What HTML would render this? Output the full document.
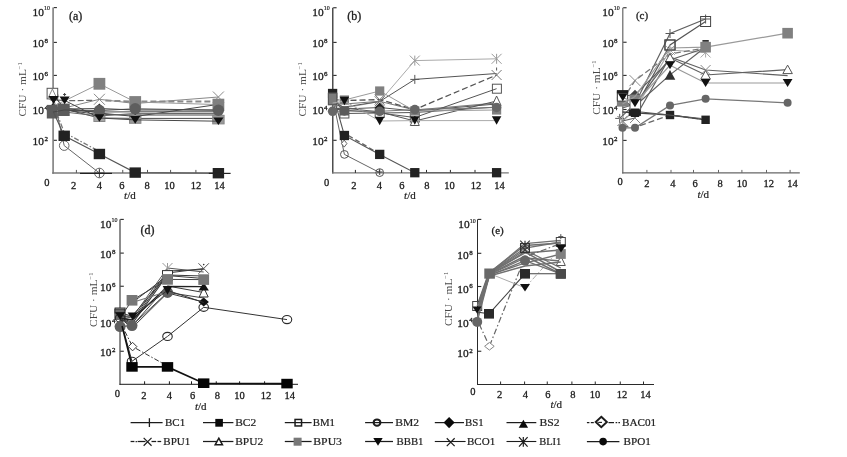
<!DOCTYPE html>
<html lang="en"><head><meta charset="utf-8"><title>CFU curves</title>
<style>html,body{margin:0;padding:0;background:#fff}svg{display:block}text{font-family:"Liberation Serif","DejaVu Serif",serif}</style>
</head><body>
<svg width="847" height="457" viewBox="0 0 847 457">
<rect width="847" height="457" fill="#fff"/>
<g id="pa">
<path d="M53.1 7.5L53.1 173.65" stroke="#8c8c8c" stroke-width="1.8" fill="none"/>
<path d="M52.2 172.9L219 172.9" stroke="#7a7a7a" stroke-width="1.5" fill="none"/>
<path d="M53.8 7.6L56.9 7.6" stroke="#2a2a2a" stroke-width="1.1" fill="none"/>
<path d="M53.8 42.4L56.9 42.4" stroke="#2a2a2a" stroke-width="1.1" fill="none"/>
<path d="M53.8 75.4L56.9 75.4" stroke="#2a2a2a" stroke-width="1.1" fill="none"/>
<path d="M53.8 109.5L56.9 109.5" stroke="#2a2a2a" stroke-width="1.1" fill="none"/>
<path d="M53.8 140.3L56.9 140.3" stroke="#2a2a2a" stroke-width="1.1" fill="none"/>
<path d="M76.4 172.9L76.4 169.9" stroke="#555" stroke-width="1.0" fill="none"/>
<path d="M99.4 172.9L99.4 169.9" stroke="#555" stroke-width="1.0" fill="none"/>
<path d="M122.75 172.9L122.75 169.9" stroke="#555" stroke-width="1.0" fill="none"/>
<path d="M147.5 172.9L147.5 169.9" stroke="#555" stroke-width="1.0" fill="none"/>
<path d="M170.6 172.9L170.6 169.9" stroke="#555" stroke-width="1.0" fill="none"/>
<path d="M195.9 172.9L195.9 169.9" stroke="#555" stroke-width="1.0" fill="none"/>
<text x="43.9" y="15.65" font-size="11.4" fill="#1c1c1c" stroke="#1c1c1c" stroke-width="0.3" text-anchor="end">10</text>
<text x="44" y="10.45" font-size="7" fill="#222" stroke="#222" stroke-width="0.2" textLength="6" lengthAdjust="spacingAndGlyphs">10</text>
<text x="43.9" y="46.75" font-size="11.4" fill="#1c1c1c" stroke="#1c1c1c" stroke-width="0.3" text-anchor="end">10</text>
<text x="44.4" y="42.55" font-size="7" fill="#222" stroke="#222" stroke-width="0.3" text-anchor="start">8</text>
<text x="43.9" y="79.9" font-size="11.4" fill="#1c1c1c" stroke="#1c1c1c" stroke-width="0.3" text-anchor="end">10</text>
<text x="44.4" y="75.7" font-size="7" fill="#222" stroke="#222" stroke-width="0.3" text-anchor="start">6</text>
<text x="43.9" y="114" font-size="11.4" fill="#1c1c1c" stroke="#1c1c1c" stroke-width="0.3" text-anchor="end">10</text>
<text x="44.4" y="109.8" font-size="7" fill="#222" stroke="#222" stroke-width="0.3" text-anchor="start">4</text>
<text x="43.9" y="144.8" font-size="11.4" fill="#1c1c1c" stroke="#1c1c1c" stroke-width="0.3" text-anchor="end">10</text>
<text x="44.4" y="140.6" font-size="7" fill="#222" stroke="#222" stroke-width="0.3" text-anchor="start">2</text>
<text x="46.9" y="186.4" font-size="10.5" fill="#1c1c1c" stroke="#1c1c1c" stroke-width="0.3" text-anchor="middle">0</text>
<text x="73.5" y="188.6" font-size="10.5" fill="#1c1c1c" stroke="#1c1c1c" stroke-width="0.3" text-anchor="middle">2</text>
<text x="99.4" y="188.6" font-size="10.5" fill="#1c1c1c" stroke="#1c1c1c" stroke-width="0.3" text-anchor="middle">4</text>
<text x="121.9" y="188.6" font-size="10.5" fill="#1c1c1c" stroke="#1c1c1c" stroke-width="0.3" text-anchor="middle">6</text>
<text x="147.1" y="188.6" font-size="10.5" fill="#1c1c1c" stroke="#1c1c1c" stroke-width="0.3" text-anchor="middle">8</text>
<text x="169.4" y="188.6" font-size="10.5" fill="#1c1c1c" stroke="#1c1c1c" stroke-width="0.3" text-anchor="middle">10</text>
<text x="195.9" y="188.6" font-size="10.5" fill="#1c1c1c" stroke="#1c1c1c" stroke-width="0.3" text-anchor="middle">12</text>
<text x="219.4" y="188.6" font-size="10.5" fill="#1c1c1c" stroke="#1c1c1c" stroke-width="0.3" text-anchor="middle">14</text>
<text x="75.6" y="19.5" font-size="12" fill="#222" stroke="#222" stroke-width="0.3" text-anchor="middle">(a)</text>
<text x="124.1" y="199.4" font-size="11" fill="#222" stroke="#222" stroke-width="0.2"><tspan font-style="italic">t</tspan>/d</text>
<text x="26.2" y="89.4" font-size="11.4" fill="#484848" text-anchor="middle" transform="rotate(-90 26.2 89.4)">CFU · mL<tspan font-size="6.5" dy="-4">−1</tspan></text>
<path d="M53.2 108L64.2 110L99.4 114.5L135.2 115L218.4 115" stroke="#484848" stroke-width="1.0" fill="none"/>
<path d="M59.7 110H68.7M64.2 105.5V114.5" stroke="#555" stroke-width="1.0" fill="none"/>
<path d="M63.1 94.5H66.1M64.6 93V96" stroke="#444" stroke-width="1.0" fill="none"/>
<path d="M53.2 96L64.2 145.6L99.4 173" stroke="#666" stroke-width="1.0" fill="none"/>
<ellipse cx="53.2" cy="96" rx="4.8" ry="4.8" fill="none" stroke="#666" stroke-width="1.0"/>
<ellipse cx="64.2" cy="145.6" rx="4.8" ry="4.8" fill="none" stroke="#666" stroke-width="1.0"/>
<ellipse cx="99.4" cy="173" rx="4.8" ry="4.8" fill="none" stroke="#666" stroke-width="1.0"/>
<path d="M94.9 173H103.9M99.4 168.5V177.5" stroke="#444" stroke-width="1.0" fill="none"/>
<path d="M80 173.4L112 173.4" stroke="#222" stroke-width="1.2" fill="none"/>
<path d="M53.2 104L64.2 132.5L99.4 151.5" stroke="#777" stroke-width="1.3" fill="none" stroke-dasharray="5 2 1.5 2"/>
<path d="M52.4 93.6L64.2 109L99.4 118L135.2 118.4L218.4 118.4" stroke="#484848" stroke-width="1.0" fill="none"/>
<rect x="47.1" y="88.3" width="10.6" height="10.6" fill="#fff" stroke="#555" stroke-width="1.0"/>
<rect x="93.9" y="114.5" width="11" height="7" fill="#a5a5a5" stroke="#888" stroke-width="1.0"/>
<rect x="129.5" y="114.7" width="11.4" height="8.6" fill="#999" stroke="#888" stroke-width="1.0"/>
<rect x="212.7" y="115.3" width="11.4" height="8.6" fill="#999" stroke="#888" stroke-width="1.0"/>
<path d="M52.4 93.5L64.2 108L99.4 113L135.2 116.5L218.4 104.4" stroke="#484848" stroke-width="1.0" fill="none"/>
<path d="M52.4 89L56.4 97.5L48.4 97.5Z" fill="#fff" stroke="#888" stroke-width="1.0"/>
<path d="M53.2 108L64.2 109L99.4 108.5L135.2 110L218.4 110" stroke="#484848" stroke-width="1.0" fill="none"/>
<path d="M53.2 103L58.2 108L53.2 113L48.2 108Z" fill="#222"/>
<path d="M64.2 104L69.2 109L64.2 114L59.2 109Z" fill="#222"/>
<path d="M99.4 103.5L104.4 108.5L99.4 113.5L94.4 108.5Z" fill="#222"/>
<path d="M135.2 105L140.2 110L135.2 115L130.2 110Z" fill="#222"/>
<path d="M218.4 105L223.4 110L218.4 115L213.4 110Z" fill="#222"/>
<path d="M53.2 109L64.2 110L99.4 112L135.2 111.8L218.4 111.8" stroke="#484848" stroke-width="1.0" fill="none"/>
<path d="M53.2 106L64.2 112L99.4 116L135.2 113.4L218.4 113.6" stroke="#666" stroke-width="1.0" fill="none"/>
<path d="M53.2 105L64.2 108L99.4 99.3L135.2 103.5L218.4 97" stroke="#888" stroke-width="1.0" fill="none"/>
<path d="M93.9 93.8L104.9 104.8M93.9 104.8L104.9 93.8" stroke="#8a8a8a" stroke-width="1.0" fill="none"/>
<path d="M212.9 91.5L223.9 102.5M212.9 102.5L223.9 91.5" stroke="#8a8a8a" stroke-width="1.0" fill="none"/>
<path d="M69.2 100.6L94.4 100.4" stroke="#666" stroke-width="1.2" fill="none" stroke-dasharray="6 2.5"/>
<path d="M105.4 100.6L135.2 101.6L218.4 101.4" stroke="#8a8a8a" stroke-width="2.0" fill="none" stroke-dasharray="6 3"/>
<path d="M53.2 106L64.2 101L99.4 83.8L135.2 102L218.4 104.6" stroke="#9a9a9a" stroke-width="1.0" fill="none"/>
<rect x="93.5" y="77.9" width="11.8" height="11.8" fill="#808080"/>
<rect x="129.3" y="96.1" width="11.8" height="11.8" fill="#808080"/>
<rect x="212.5" y="98.7" width="11.8" height="11.8" fill="#808080"/>
<rect x="46.8" y="104.9" width="10.8" height="13.6" fill="#5c5c5c"/>
<rect x="57.5" y="103.6" width="12.2" height="12.4" fill="#5c5c5c"/>
<path d="M53.2 111.5L64.2 135.8L99.4 154L135.2 172.6L218.4 173.2" stroke="#555" stroke-width="1.1" fill="none"/>
<rect x="58.5" y="130.6" width="11.4" height="10.4" fill="#222"/>
<rect x="93.7" y="148.8" width="11.4" height="10.4" fill="#222"/>
<rect x="129.5" y="167.4" width="11.4" height="10.4" fill="#222"/>
<rect x="212.7" y="168" width="11.4" height="10.4" fill="#222"/>
<path d="M208.8 173.4L230.6 173.4" stroke="#222" stroke-width="1.2" fill="none"/>
<path d="M53.2 112L64.2 110L99.4 110.5L135.2 108.8L218.4 110.2" stroke="#484848" stroke-width="1.0" fill="none"/>
<ellipse cx="99.4" cy="110.5" rx="5.7" ry="5.7" fill="#5e5e5e"/>
<ellipse cx="135.2" cy="108.8" rx="5.7" ry="5.7" fill="#5e5e5e"/>
<ellipse cx="218.4" cy="110.2" rx="5.7" ry="5.7" fill="#5e5e5e"/>
<path d="M53.6 99.9L64.6 100.4L99.4 118L135.2 119.9L218.4 121.2" stroke="#484848" stroke-width="1.0" fill="none"/>
<path d="M48.5 96.1L58.7 96.1L53.6 103.7Z" fill="#111"/>
<path d="M59.5 96.6L69.7 96.6L64.6 104.2Z" fill="#111"/>
<path d="M94.3 114.2L104.5 114.2L99.4 121.8Z" fill="#111"/>
<path d="M130.1 116.1L140.3 116.1L135.2 123.7Z" fill="#111"/>
<path d="M213.3 117.4L223.5 117.4L218.4 125Z" fill="#111"/>
</g>
<g id="pb">
<path d="M332.8 7.75L332.8 173.55" stroke="#2a2a2a" stroke-width="1.25" fill="none"/>
<path d="M332.18 172.9L508.8 172.9" stroke="#777" stroke-width="1.3" fill="none"/>
<path d="M333.23 7.75L336.6 7.75" stroke="#2a2a2a" stroke-width="1.1" fill="none"/>
<path d="M333.23 42.4L336.6 42.4" stroke="#2a2a2a" stroke-width="1.1" fill="none"/>
<path d="M333.23 75.4L336.6 75.4" stroke="#2a2a2a" stroke-width="1.1" fill="none"/>
<path d="M333.23 109.5L336.6 109.5" stroke="#2a2a2a" stroke-width="1.1" fill="none"/>
<path d="M333.23 140.3L336.6 140.3" stroke="#2a2a2a" stroke-width="1.1" fill="none"/>
<path d="M355.4 172.9L355.4 169.9" stroke="#2a2a2a" stroke-width="1.0" fill="none"/>
<path d="M379.4 172.9L379.4 169.9" stroke="#2a2a2a" stroke-width="1.0" fill="none"/>
<path d="M401.6 172.9L401.6 169.9" stroke="#2a2a2a" stroke-width="1.0" fill="none"/>
<path d="M426.5 172.9L426.5 169.9" stroke="#2a2a2a" stroke-width="1.0" fill="none"/>
<path d="M450.4 172.9L450.4 169.9" stroke="#2a2a2a" stroke-width="1.0" fill="none"/>
<path d="M475 172.9L475 169.9" stroke="#2a2a2a" stroke-width="1.0" fill="none"/>
<text x="323.6" y="15.65" font-size="11.4" fill="#1c1c1c" stroke="#1c1c1c" stroke-width="0.3" text-anchor="end">10</text>
<text x="323.7" y="10.45" font-size="7" fill="#222" stroke="#222" stroke-width="0.2" textLength="6" lengthAdjust="spacingAndGlyphs">10</text>
<text x="323.6" y="46.9" font-size="11.4" fill="#1c1c1c" stroke="#1c1c1c" stroke-width="0.3" text-anchor="end">10</text>
<text x="324.1" y="42.7" font-size="7" fill="#222" stroke="#222" stroke-width="0.3" text-anchor="start">8</text>
<text x="323.6" y="79.9" font-size="11.4" fill="#1c1c1c" stroke="#1c1c1c" stroke-width="0.3" text-anchor="end">10</text>
<text x="324.1" y="75.7" font-size="7" fill="#222" stroke="#222" stroke-width="0.3" text-anchor="start">6</text>
<text x="323.6" y="114" font-size="11.4" fill="#1c1c1c" stroke="#1c1c1c" stroke-width="0.3" text-anchor="end">10</text>
<text x="324.1" y="109.8" font-size="7" fill="#222" stroke="#222" stroke-width="0.3" text-anchor="start">4</text>
<text x="323.6" y="144.8" font-size="11.4" fill="#1c1c1c" stroke="#1c1c1c" stroke-width="0.3" text-anchor="end">10</text>
<text x="324.1" y="140.6" font-size="7" fill="#222" stroke="#222" stroke-width="0.3" text-anchor="start">2</text>
<text x="326.6" y="186.4" font-size="10.5" fill="#1c1c1c" stroke="#1c1c1c" stroke-width="0.3" text-anchor="middle">0</text>
<text x="353.75" y="188.6" font-size="10.5" fill="#1c1c1c" stroke="#1c1c1c" stroke-width="0.3" text-anchor="middle">2</text>
<text x="379.4" y="188.6" font-size="10.5" fill="#1c1c1c" stroke="#1c1c1c" stroke-width="0.3" text-anchor="middle">4</text>
<text x="401.9" y="188.6" font-size="10.5" fill="#1c1c1c" stroke="#1c1c1c" stroke-width="0.3" text-anchor="middle">6</text>
<text x="426.9" y="188.6" font-size="10.5" fill="#1c1c1c" stroke="#1c1c1c" stroke-width="0.3" text-anchor="middle">8</text>
<text x="449.4" y="188.6" font-size="10.5" fill="#1c1c1c" stroke="#1c1c1c" stroke-width="0.3" text-anchor="middle">10</text>
<text x="475.9" y="188.6" font-size="10.5" fill="#1c1c1c" stroke="#1c1c1c" stroke-width="0.3" text-anchor="middle">12</text>
<text x="499.4" y="188.6" font-size="10.5" fill="#1c1c1c" stroke="#1c1c1c" stroke-width="0.3" text-anchor="middle">14</text>
<text x="354.3" y="19.5" font-size="12" fill="#222" stroke="#222" stroke-width="0.3" text-anchor="middle">(b)</text>
<text x="404.1" y="199.4" font-size="11" fill="#222" stroke="#222" stroke-width="0.2"><tspan font-style="italic">t</tspan>/d</text>
<text x="306.5" y="89.4" font-size="11.4" fill="#484848" text-anchor="middle" transform="rotate(-90 306.5 89.4)">CFU · mL<tspan font-size="6.5" dy="-4">−1</tspan></text>
<path d="M332.6 106L344.4 108L379.7 101.5L414.8 60.6L496.6 58.8" stroke="#aaa" stroke-width="1.0" fill="none"/>
<path d="M409.8 55.6L419.8 65.6M409.8 65.6L419.8 55.6M414.8 55.6V65.6" stroke="#999" stroke-width="1.0" fill="none"/>
<path d="M491.6 53.8L501.6 63.8M491.6 63.8L501.6 53.8M496.6 53.8V63.8" stroke="#999" stroke-width="1.0" fill="none"/>
<path d="M332.6 104L344.4 107L379.7 101.5L414.8 79.4L496.6 73.5" stroke="#555" stroke-width="1.0" fill="none"/>
<path d="M410.3 79.4H419.3M414.8 74.9V83.9" stroke="#555" stroke-width="1.0" fill="none"/>
<path d="M496.6 67.5L496.6 70.5" stroke="#555" stroke-width="1.0" fill="none"/>
<path d="M332.6 102L344.4 104L379.7 101.3L414.8 110L496.6 103" stroke="#777" stroke-width="1.0" fill="none"/>
<path d="M374.7 96.3L384.7 106.3M374.7 106.3L384.7 96.3" stroke="#777" stroke-width="1.0" fill="none"/>
<path d="M332.6 99L344.4 100.6L379.7 99.6L414.8 109.5L496.6 75" stroke="#555" stroke-width="1.3" fill="none" stroke-dasharray="6 3"/>
<path d="M374.7 94.6L384.7 104.6M374.7 104.6L384.7 94.6" stroke="#777" stroke-width="1.0" fill="none"/>
<path d="M491.6 70L501.6 80M491.6 80L501.6 70" stroke="#777" stroke-width="1.0" fill="none"/>
<path d="M332.6 96L344.4 113.5L379.7 113L414.8 117.5L496.6 88.7" stroke="#555" stroke-width="1.0" fill="none"/>
<rect x="339.9" y="109" width="9" height="9" fill="#fff" stroke="#555" stroke-width="1.0"/>
<rect x="375.2" y="108.5" width="9" height="9" fill="#fff" stroke="#555" stroke-width="1.0"/>
<rect x="410.3" y="113" width="9" height="9" fill="#fff" stroke="#555" stroke-width="1.0"/>
<rect x="492.4" y="84.2" width="9" height="9" fill="none" stroke="#555" stroke-width="1.0"/>
<path d="M332.6 98L344.4 154.4L379.7 172.6" stroke="#666" stroke-width="1.0" fill="none"/>
<ellipse cx="332.6" cy="98" rx="3.9" ry="3.9" fill="none" stroke="#555" stroke-width="1.0"/>
<ellipse cx="344.4" cy="154.4" rx="3.9" ry="3.9" fill="none" stroke="#555" stroke-width="1.0"/>
<ellipse cx="379.7" cy="172.6" rx="3.9" ry="3.9" fill="none" stroke="#555" stroke-width="1.0"/>
<path d="M376.7 172H382.7M379.7 169V175" stroke="#444" stroke-width="1.0" fill="none"/>
<path d="M348.4 135.5L373.7 150.5" stroke="#666" stroke-width="1.4" fill="none" stroke-dasharray="5 3"/>
<path d="M344.2 140.1L346.95 143.6L344.2 147.1L341.45 143.6Z" fill="#fff" stroke="#666" stroke-width="1.0"/>
<path d="M332.6 100L344.4 108L379.7 112L414.8 121L496.6 101" stroke="#555" stroke-width="1.0" fill="none"/>
<path d="M414.8 116L419.3 125.5L410.3 125.5Z" fill="#fff" stroke="#555" stroke-width="1.0"/>
<path d="M496.6 96L501.1 105.5L492.1 105.5Z" fill="#fff" stroke="#555" stroke-width="1.0"/>
<path d="M332.6 108L344.4 109L379.7 107.5L414.8 111L496.6 104" stroke="#555" stroke-width="1.0" fill="none"/>
<path d="M379.7 102.5L384.7 107.5L379.7 112.5L374.7 107.5Z" fill="#222"/>
<path d="M332.6 109L344.4 110L379.7 113L414.8 112.5L496.6 107" stroke="#555" stroke-width="1.0" fill="none"/>
<path d="M332.6 100L344.4 100L379.7 91L414.8 111L496.6 110" stroke="#9a9a9a" stroke-width="1.0" fill="none"/>
<rect x="328" y="95.4" width="9.2" height="9.2" fill="#808080"/>
<rect x="339.8" y="95.4" width="9.2" height="9.2" fill="#808080"/>
<rect x="375.1" y="86.4" width="9.2" height="9.2" fill="#808080"/>
<rect x="410.2" y="106.4" width="9.2" height="9.2" fill="#808080"/>
<rect x="492" y="105.4" width="9.2" height="9.2" fill="#808080"/>
<path d="M332.6 93.5L344.4 135.5L379.7 154.4L414.8 172.7L496.6 172.7" stroke="#555" stroke-width="1.1" fill="none"/>
<rect x="327.95" y="88.85" width="9.3" height="9.3" fill="#222"/>
<rect x="339.75" y="130.85" width="9.3" height="9.3" fill="#222"/>
<rect x="375.05" y="149.75" width="9.3" height="9.3" fill="#222"/>
<rect x="410.15" y="168.05" width="9.3" height="9.3" fill="#222"/>
<rect x="491.95" y="168.05" width="9.3" height="9.3" fill="#222"/>
<rect x="327.9" y="92.8" width="9.4" height="12.4" fill="#7c7c7c"/>
<rect x="328.4" y="93.3" width="8.4" height="11.4" fill="none" stroke="#555" stroke-width="1.0"/>
<path d="M332.6 103L344.4 101L379.7 121L414.8 120.6L496.6 120.6" stroke="#aaa" stroke-width="1.0" fill="none"/>
<path d="M339.65 96.75L349.15 96.75L344.4 105.25Z" fill="#111"/>
<path d="M374.95 116.75L384.45 116.75L379.7 125.25Z" fill="#111"/>
<path d="M410.05 116.35L419.55 116.35L414.8 124.85Z" fill="#111"/>
<path d="M491.85 116.35L501.35 116.35L496.6 124.85Z" fill="#111"/>
<path d="M332.6 111.3L344.4 111L379.7 111.3L414.8 109.6L496.6 107.5" stroke="#777" stroke-width="1.0" fill="none"/>
<ellipse cx="332.6" cy="111.3" rx="4.75" ry="4.75" fill="#666"/>
<ellipse cx="344.4" cy="111" rx="4.75" ry="4.75" fill="#666"/>
<ellipse cx="379.7" cy="111.3" rx="4.75" ry="4.75" fill="#666"/>
<ellipse cx="414.8" cy="109.6" rx="4.75" ry="4.75" fill="#666"/>
<ellipse cx="496.6" cy="107.5" rx="4.75" ry="4.75" fill="#666"/>
<rect x="339.9" y="106.5" width="9" height="9" fill="#5a5a5a"/>
</g>
<g id="pc">
<path d="M622.8 7.75L622.8 173.5" stroke="#666" stroke-width="1.2" fill="none"/>
<path d="M622.2 172.9L799.8 172.9" stroke="#666" stroke-width="1.2" fill="none"/>
<path d="M623.2 7.75L626.6 7.75" stroke="#2a2a2a" stroke-width="1.1" fill="none"/>
<path d="M623.2 42.25L626.6 42.25" stroke="#2a2a2a" stroke-width="1.1" fill="none"/>
<path d="M623.2 75.4L626.6 75.4" stroke="#2a2a2a" stroke-width="1.1" fill="none"/>
<path d="M623.2 109.5L626.6 109.5" stroke="#2a2a2a" stroke-width="1.1" fill="none"/>
<path d="M623.2 140.4L626.6 140.4" stroke="#2a2a2a" stroke-width="1.1" fill="none"/>
<path d="M646.9 172.9L646.9 169.9" stroke="#666" stroke-width="1.0" fill="none"/>
<path d="M671 172.9L671 169.9" stroke="#666" stroke-width="1.0" fill="none"/>
<path d="M693.5 172.9L693.5 169.9" stroke="#666" stroke-width="1.0" fill="none"/>
<path d="M718.5 172.9L718.5 169.9" stroke="#666" stroke-width="1.0" fill="none"/>
<path d="M741.9 172.9L741.9 169.9" stroke="#666" stroke-width="1.0" fill="none"/>
<path d="M766.5 172.9L766.5 169.9" stroke="#666" stroke-width="1.0" fill="none"/>
<path d="M790.1 172.9L790.1 169.9" stroke="#666" stroke-width="1.0" fill="none"/>
<text x="613.6" y="15.65" font-size="11.4" fill="#1c1c1c" stroke="#1c1c1c" stroke-width="0.3" text-anchor="end">10</text>
<text x="613.7" y="10.45" font-size="7" fill="#222" stroke="#222" stroke-width="0.2" textLength="6" lengthAdjust="spacingAndGlyphs">10</text>
<text x="613.6" y="46.75" font-size="11.4" fill="#1c1c1c" stroke="#1c1c1c" stroke-width="0.3" text-anchor="end">10</text>
<text x="614.1" y="42.55" font-size="7" fill="#222" stroke="#222" stroke-width="0.3" text-anchor="start">8</text>
<text x="613.6" y="79.9" font-size="11.4" fill="#1c1c1c" stroke="#1c1c1c" stroke-width="0.3" text-anchor="end">10</text>
<text x="614.1" y="75.7" font-size="7" fill="#222" stroke="#222" stroke-width="0.3" text-anchor="start">6</text>
<text x="613.6" y="114" font-size="11.4" fill="#1c1c1c" stroke="#1c1c1c" stroke-width="0.3" text-anchor="end">10</text>
<text x="614.1" y="109.8" font-size="7" fill="#222" stroke="#222" stroke-width="0.3" text-anchor="start">4</text>
<text x="613.6" y="144.9" font-size="11.4" fill="#1c1c1c" stroke="#1c1c1c" stroke-width="0.3" text-anchor="end">10</text>
<text x="614.1" y="140.7" font-size="7" fill="#222" stroke="#222" stroke-width="0.3" text-anchor="start">2</text>
<text x="620" y="184.7" font-size="10.5" fill="#1c1c1c" stroke="#1c1c1c" stroke-width="0.3" text-anchor="middle">0</text>
<text x="646.9" y="186.7" font-size="10.5" fill="#1c1c1c" stroke="#1c1c1c" stroke-width="0.3" text-anchor="middle">2</text>
<text x="672.8" y="186.7" font-size="10.5" fill="#1c1c1c" stroke="#1c1c1c" stroke-width="0.3" text-anchor="middle">4</text>
<text x="695" y="186.7" font-size="10.5" fill="#1c1c1c" stroke="#1c1c1c" stroke-width="0.3" text-anchor="middle">6</text>
<text x="720" y="186.7" font-size="10.5" fill="#1c1c1c" stroke="#1c1c1c" stroke-width="0.3" text-anchor="middle">8</text>
<text x="741.9" y="186.7" font-size="10.5" fill="#1c1c1c" stroke="#1c1c1c" stroke-width="0.3" text-anchor="middle">10</text>
<text x="768.75" y="186.7" font-size="10.5" fill="#1c1c1c" stroke="#1c1c1c" stroke-width="0.3" text-anchor="middle">12</text>
<text x="792.6" y="186.7" font-size="10.5" fill="#1c1c1c" stroke="#1c1c1c" stroke-width="0.3" text-anchor="middle">14</text>
<text x="642" y="19.3" font-size="11" fill="#222" stroke="#222" stroke-width="0.3" text-anchor="middle">(c)</text>
<text x="697.5" y="197.5" font-size="11" fill="#222" stroke="#222" stroke-width="0.2"><tspan font-style="italic">t</tspan>/d</text>
<text x="599.6" y="87.6" font-size="11.4" fill="#484848" text-anchor="middle" transform="rotate(-90 599.6 87.6)">CFU · mL<tspan font-size="6.5" dy="-4">−1</tspan></text>
<path d="M619.7 118.4L635 104L670 33.5L705.6 19" stroke="#606060" stroke-width="1.2" fill="none"/>
<path d="M615.2 118.4H624.2M619.7 113.9V122.9" stroke="#555" stroke-width="1.0" fill="none"/>
<path d="M630.5 104H639.5M635 99.5V108.5" stroke="#555" stroke-width="1.0" fill="none"/>
<path d="M665.5 33.5H674.5M670 29V38" stroke="#555" stroke-width="1.0" fill="none"/>
<path d="M701.1 19H710.1M705.6 14.5V23.5" stroke="#555" stroke-width="1.0" fill="none"/>
<path d="M622.5 100L635 108L670 45L705.6 21.5" stroke="#555" stroke-width="1.2" fill="none"/>
<rect x="665" y="40" width="10" height="10" fill="none" stroke="#444" stroke-width="1.0"/>
<rect x="700.6" y="16.5" width="10" height="10" fill="none" stroke="#444" stroke-width="1.0"/>
<path d="M622.5 121L635 110L670 50L705.6 52.5" stroke="#aaa" stroke-width="1.2" fill="none"/>
<path d="M617.5 116L627.5 126M617.5 126L627.5 116M622.5 116V126" stroke="#aaa" stroke-width="1.0" fill="none"/>
<path d="M630 105L640 115M630 115L640 105M635 105V115" stroke="#aaa" stroke-width="1.0" fill="none"/>
<path d="M665 45L675 55M665 55L675 45M670 45V55" stroke="#aaa" stroke-width="1.0" fill="none"/>
<path d="M700.6 47.5L710.6 57.5M700.6 57.5L710.6 47.5M705.6 47.5V57.5" stroke="#aaa" stroke-width="1.0" fill="none"/>
<path d="M622.5 126L635 127.5L670 115L705.6 119.8" stroke="#666" stroke-width="1.2" fill="none" stroke-dasharray="6 3"/>
<path d="M622.5 100L635 80.6L670 54L705.6 48" stroke="#777" stroke-width="1.3" fill="none" stroke-dasharray="6 3"/>
<path d="M629.5 75.1L640.5 86.1M629.5 86.1L640.5 75.1" stroke="#8a8a8a" stroke-width="1.0" fill="none"/>
<path d="M622.5 121L635 118L670 57L705.6 70L787.6 75.6" stroke="#606060" stroke-width="1.2" fill="none"/>
<path d="M617.5 116L627.5 126M617.5 126L627.5 116" stroke="#888" stroke-width="1.0" fill="none"/>
<path d="M630 113L640 123M630 123L640 113" stroke="#888" stroke-width="1.0" fill="none"/>
<path d="M665 52L675 62M665 62L675 52" stroke="#888" stroke-width="1.0" fill="none"/>
<path d="M700.6 65L710.6 75M700.6 75L710.6 65" stroke="#888" stroke-width="1.0" fill="none"/>
<path d="M622.5 96L635 95L670 60L705.6 48" stroke="#606060" stroke-width="1.2" fill="none"/>
<path d="M635 89.7L640.3 95L635 100.3L629.7 95Z" fill="#444"/>
<path d="M622.5 108L635 104L670 58L705.6 75L787.6 69.6" stroke="#606060" stroke-width="1.2" fill="none"/>
<path d="M670 53.5L674.75 62L665.25 62Z" fill="#fff" stroke="#555" stroke-width="1.0"/>
<path d="M705.6 70.5L710.35 79L700.85 79Z" fill="#fff" stroke="#555" stroke-width="1.0"/>
<path d="M787.6 65.1L792.35 73.6L782.85 73.6Z" fill="#fff" stroke="#555" stroke-width="1.0"/>
<path d="M622.5 104L635 106L670 74.9L705.6 47" stroke="#606060" stroke-width="1.2" fill="none"/>
<path d="M670 70L675.3 79.8L664.7 79.8Z" fill="#303030"/>
<rect x="616.9" y="90.3" width="11.2" height="10" fill="#1c1c1c"/>
<rect x="616.9" y="97" width="11.2" height="9.6" fill="#808080"/>
<rect x="617.4" y="92.1" width="10.2" height="9" fill="#fff" stroke="#444" stroke-width="1.0"/>
<rect x="616.9" y="90.3" width="11.2" height="3" fill="#1c1c1c"/>
<rect x="629.5" y="94.6" width="11" height="4.4" fill="#808080"/>
<rect x="630" y="99.5" width="10.6" height="9.8" fill="#fff" stroke="#555" stroke-width="1.0"/>
<path d="M622.5 104L635 96.6L670 48L705.6 47.2L787.6 33.2" stroke="#9a9a9a" stroke-width="1.2" fill="none"/>
<rect x="700.3" y="41.9" width="10.6" height="10.6" fill="#808080"/>
<rect x="782.3" y="27.9" width="10.6" height="10.6" fill="#808080"/>
<path d="M622.8 97.3L635 103.2L670 65.3L705.6 83L787.6 83" stroke="#999" stroke-width="1.2" fill="none"/>
<path d="M617.9 93.3L627.7 93.3L622.8 101.3Z" fill="#111"/>
<path d="M630.1 99.2L639.9 99.2L635 107.2Z" fill="#111"/>
<path d="M665.1 61.3L674.9 61.3L670 69.3Z" fill="#111"/>
<path d="M700.7 79L710.5 79L705.6 87Z" fill="#111"/>
<path d="M782.7 79L792.5 79L787.6 87Z" fill="#111"/>
<path d="M622.5 112L635 112.8L670 115L705.6 119.8" stroke="#444" stroke-width="1.3" fill="none"/>
<rect x="630.8" y="108.6" width="8.4" height="8.4" fill="#222"/>
<rect x="665.8" y="110.8" width="8.4" height="8.4" fill="#222"/>
<rect x="701.4" y="115.6" width="8.4" height="8.4" fill="#222"/>
<rect x="628.7" y="109.7" width="12.2" height="6.2" fill="#222"/>
<path d="M641 112L701.6 118.5" stroke="#555" stroke-width="1.2" fill="none"/>
<path d="M622.5 127.8L635 127.8L670 105.4L705.6 98.8L787.6 102.8" stroke="#777" stroke-width="1.2" fill="none"/>
<ellipse cx="622.5" cy="127.8" rx="4" ry="4" fill="#666"/>
<ellipse cx="635" cy="127.8" rx="4" ry="4" fill="#666"/>
<ellipse cx="670" cy="105.4" rx="4" ry="4" fill="#666"/>
<ellipse cx="705.6" cy="98.8" rx="4" ry="4" fill="#666"/>
<ellipse cx="787.6" cy="102.8" rx="4" ry="4" fill="#666"/>
<rect x="664.95" y="39.95" width="10.1" height="10.1" fill="none" stroke="#4a4a4a" stroke-width="1.1"/>
<rect x="702.4" y="40.1" width="6.4" height="1.6" fill="#1a1a1a"/>
</g>
<g id="pd">
<path d="M120 219.4L120 384.8" stroke="#1a1a1a" stroke-width="1.0" fill="none"/>
<path d="M119.5 384.3L298 384.3" stroke="#1a1a1a" stroke-width="1.0" fill="none"/>
<path d="M120.3 219.4L123.8 219.4" stroke="#2a2a2a" stroke-width="1.1" fill="none"/>
<path d="M120.3 253.1L123.8 253.1" stroke="#2a2a2a" stroke-width="1.1" fill="none"/>
<path d="M120.3 286.25L123.8 286.25" stroke="#2a2a2a" stroke-width="1.1" fill="none"/>
<path d="M120.3 320.5L123.8 320.5" stroke="#2a2a2a" stroke-width="1.1" fill="none"/>
<path d="M120.3 351.25L123.8 351.25" stroke="#2a2a2a" stroke-width="1.1" fill="none"/>
<path d="M144.6 384.3L144.6 381.3" stroke="#1a1a1a" stroke-width="1.0" fill="none"/>
<path d="M169.4 384.3L169.4 381.3" stroke="#1a1a1a" stroke-width="1.0" fill="none"/>
<path d="M191.5 384.3L191.5 381.3" stroke="#1a1a1a" stroke-width="1.0" fill="none"/>
<path d="M216.25 384.3L216.25 381.3" stroke="#1a1a1a" stroke-width="1.0" fill="none"/>
<path d="M239.6 384.3L239.6 381.3" stroke="#1a1a1a" stroke-width="1.0" fill="none"/>
<path d="M264.6 384.3L264.6 381.3" stroke="#1a1a1a" stroke-width="1.0" fill="none"/>
<text x="111.4" y="227.51" font-size="11.4" fill="#1c1c1c" stroke="#1c1c1c" stroke-width="0.3" text-anchor="end">10</text>
<text x="111.5" y="222.31" font-size="7" fill="#222" stroke="#222" stroke-width="0.2" textLength="6" lengthAdjust="spacingAndGlyphs">10</text>
<text x="111.4" y="258.3" font-size="11.4" fill="#1c1c1c" stroke="#1c1c1c" stroke-width="0.3" text-anchor="end">10</text>
<text x="111.9" y="254.1" font-size="7" fill="#222" stroke="#222" stroke-width="0.3" text-anchor="start">8</text>
<text x="111.4" y="291.45" font-size="11.4" fill="#1c1c1c" stroke="#1c1c1c" stroke-width="0.3" text-anchor="end">10</text>
<text x="111.9" y="287.25" font-size="7" fill="#222" stroke="#222" stroke-width="0.3" text-anchor="start">6</text>
<text x="111.4" y="326.8" font-size="11.4" fill="#1c1c1c" stroke="#1c1c1c" stroke-width="0.3" text-anchor="end">10</text>
<text x="111.9" y="322.6" font-size="7" fill="#222" stroke="#222" stroke-width="0.3" text-anchor="start">4</text>
<text x="111.4" y="356.45" font-size="11.4" fill="#1c1c1c" stroke="#1c1c1c" stroke-width="0.3" text-anchor="end">10</text>
<text x="111.9" y="352.25" font-size="7" fill="#222" stroke="#222" stroke-width="0.3" text-anchor="start">2</text>
<text x="117.25" y="396.8" font-size="10.5" fill="#1c1c1c" stroke="#1c1c1c" stroke-width="0.3" text-anchor="middle">0</text>
<text x="143.75" y="398.8" font-size="10.5" fill="#1c1c1c" stroke="#1c1c1c" stroke-width="0.3" text-anchor="middle">2</text>
<text x="169.4" y="398.8" font-size="10.5" fill="#1c1c1c" stroke="#1c1c1c" stroke-width="0.3" text-anchor="middle">4</text>
<text x="192.5" y="398.8" font-size="10.5" fill="#1c1c1c" stroke="#1c1c1c" stroke-width="0.3" text-anchor="middle">6</text>
<text x="217.25" y="398.8" font-size="10.5" fill="#1c1c1c" stroke="#1c1c1c" stroke-width="0.3" text-anchor="middle">8</text>
<text x="239.4" y="398.8" font-size="10.5" fill="#1c1c1c" stroke="#1c1c1c" stroke-width="0.3" text-anchor="middle">10</text>
<text x="266" y="398.8" font-size="10.5" fill="#1c1c1c" stroke="#1c1c1c" stroke-width="0.3" text-anchor="middle">12</text>
<text x="289.75" y="398.8" font-size="10.5" fill="#1c1c1c" stroke="#1c1c1c" stroke-width="0.3" text-anchor="middle">14</text>
<text x="147.6" y="234.2" font-size="12" fill="#222" stroke="#222" stroke-width="0.3" text-anchor="middle">(d)</text>
<text x="195" y="409.9" font-size="11" fill="#222" stroke="#222" stroke-width="0.2"><tspan font-style="italic">t</tspan>/d</text>
<text x="97.2" y="299.7" font-size="11.4" fill="#484848" text-anchor="middle" transform="rotate(-90 97.2 299.7)">CFU · mL<tspan font-size="6.5" dy="-4">−1</tspan></text>
<path d="M120.1 316L132 318L167.5 268L203.7 272" stroke="#555" stroke-width="1.0" fill="none"/>
<path d="M162.5 263L172.5 273M162.5 273L172.5 263M167.5 263V273" stroke="#999" stroke-width="1.0" fill="none"/>
<path d="M120.1 318L132 320L167.5 271L203.7 269.5" stroke="#3a3a3a" stroke-width="1.0" fill="none"/>
<ellipse cx="203.7" cy="264.6" rx="0.8" ry="0.8" fill="#333"/>
<path d="M120.1 318L132 322L167.5 273L203.7 268.5" stroke="#3a3a3a" stroke-width="1.0" fill="none"/>
<path d="M198.45 263.25L208.95 273.75M198.45 273.75L208.95 263.25" stroke="#555" stroke-width="1.0" fill="none"/>
<path d="M120.1 318L132 324L167.5 275L203.7 276" stroke="#3a3a3a" stroke-width="1.2" fill="none"/>
<path d="M120.1 313L132 316L167.5 275.6L203.7 278.5" stroke="#3a3a3a" stroke-width="1.0" fill="none"/>
<rect x="115.1" y="308" width="10" height="10" fill="#fff" stroke="#333" stroke-width="1.0"/>
<rect x="162.5" y="270.6" width="10" height="10" fill="#fff" stroke="#333" stroke-width="1.0"/>
<rect x="114.5" y="309" width="10.4" height="11" fill="#6a6a6a"/>
<rect x="115" y="309" width="9.4" height="4" fill="none" stroke="#333" stroke-width="1.0"/>
<path d="M120.1 318L132 361.3L167.5 336.4L203.7 307.3L287 319.6" stroke="#333" stroke-width="1.0" fill="none"/>
<ellipse cx="120.1" cy="318" rx="4.75" ry="4.05" fill="none" stroke="#2a2a2a" stroke-width="1.1"/>
<ellipse cx="132" cy="361.3" rx="4.75" ry="4.05" fill="none" stroke="#2a2a2a" stroke-width="1.1"/>
<ellipse cx="167.5" cy="336.4" rx="4.75" ry="4.05" fill="none" stroke="#2a2a2a" stroke-width="1.1"/>
<ellipse cx="203.7" cy="307.3" rx="4.75" ry="4.05" fill="none" stroke="#2a2a2a" stroke-width="1.1"/>
<ellipse cx="287" cy="319.6" rx="4.75" ry="4.05" fill="none" stroke="#2a2a2a" stroke-width="1.1"/>
<path d="M120.1 322L132.6 346.6L167.5 366" stroke="#333" stroke-width="1.0" fill="none" stroke-dasharray="5 2 1.5 2"/>
<path d="M132.6 342.35L136.85 346.6L132.6 350.85L128.35 346.6Z" fill="#fff" stroke="#333" stroke-width="1.0"/>
<path d="M120.1 318L132 326L167.5 286L203.7 292.5" stroke="#3a3a3a" stroke-width="1.0" fill="none"/>
<path d="M203.7 287.5L208.2 297L199.2 297Z" fill="#fff" stroke="#333" stroke-width="1.0"/>
<path d="M120.1 318L132 320L167.5 286.5L203.7 286.6" stroke="#222" stroke-width="1.3" fill="none"/>
<path d="M203.7 282.6L208.9 290.6L198.5 290.6Z" fill="#111"/>
<path d="M120.1 318L132 328L167.5 293L203.7 302" stroke="#3a3a3a" stroke-width="1.0" fill="none"/>
<path d="M203.7 297.4L208.9 302L203.7 306.6L198.5 302Z" fill="#111"/>
<path d="M120.1 318L132 300.3L167.5 279.4L203.7 279.6" stroke="#444" stroke-width="1.0" fill="none"/>
<rect x="126.6" y="295" width="10.8" height="10.6" fill="#777"/>
<rect x="162.1" y="274.1" width="10.8" height="10.6" fill="#777"/>
<rect x="198.3" y="274.3" width="10.8" height="10.6" fill="#777"/>
<path d="M137 299L162.5 279.5" stroke="#3a3a3a" stroke-width="1.0" fill="none"/>
<path d="M137 301L162.5 293" stroke="#777" stroke-width="1.2" fill="none"/>
<path d="M120.1 326.6L132 325.6L167.5 292.4L203.7 298" stroke="#444" stroke-width="1.0" fill="none"/>
<ellipse cx="120.1" cy="326.6" rx="5.5" ry="5.5" fill="#5e5e5e"/>
<ellipse cx="132" cy="325.6" rx="5.5" ry="5.5" fill="#5e5e5e"/>
<ellipse cx="167.5" cy="292.4" rx="5.5" ry="5.5" fill="#5e5e5e"/>
<path d="M120.1 316L132.6 316.3L167.5 290.4L203.7 302.5" stroke="#333" stroke-width="1.0" fill="none"/>
<path d="M162.7 286.1L172.3 286.1L167.5 294.7Z" fill="#111"/>
<path d="M115.1 312.3L125.1 312.3L120.1 319.7Z" fill="#111"/>
<path d="M127.6 312.6L137.6 312.6L132.6 320Z" fill="#111"/>
<path d="M122.1 326L131 362L132 366.9L167.5 366.9L203.7 383.2L287 383.6" stroke="#111" stroke-width="1.6" fill="none"/>
<rect x="126.3" y="362.1" width="11.4" height="9.6" fill="#050505"/>
<rect x="161.8" y="362.1" width="11.4" height="9.6" fill="#050505"/>
<rect x="198" y="378.4" width="11.4" height="9.6" fill="#050505"/>
<rect x="281.3" y="378.8" width="11.4" height="9.6" fill="#050505"/>
</g>
<g id="pe">
<path d="M477.5 219.4L477.5 385" stroke="#2a2a2a" stroke-width="1.0" fill="none"/>
<path d="M477 384.5L654 384.5" stroke="#2a2a2a" stroke-width="1.0" fill="none"/>
<path d="M477.8 219.4L481.3 219.4" stroke="#2a2a2a" stroke-width="1.1" fill="none"/>
<path d="M477.8 253.3L481.3 253.3" stroke="#2a2a2a" stroke-width="1.1" fill="none"/>
<path d="M477.8 286.5L481.3 286.5" stroke="#2a2a2a" stroke-width="1.1" fill="none"/>
<path d="M477.8 320.5L481.3 320.5" stroke="#2a2a2a" stroke-width="1.1" fill="none"/>
<path d="M477.8 351.25L481.3 351.25" stroke="#2a2a2a" stroke-width="1.1" fill="none"/>
<path d="M500.6 384.5L500.6 381.5" stroke="#2a2a2a" stroke-width="1.0" fill="none"/>
<path d="M524.6 384.5L524.6 381.5" stroke="#2a2a2a" stroke-width="1.0" fill="none"/>
<path d="M547.25 384.5L547.25 381.5" stroke="#2a2a2a" stroke-width="1.0" fill="none"/>
<path d="M571.9 384.5L571.9 381.5" stroke="#2a2a2a" stroke-width="1.0" fill="none"/>
<path d="M595.25 384.5L595.25 381.5" stroke="#2a2a2a" stroke-width="1.0" fill="none"/>
<path d="M620.25 384.5L620.25 381.5" stroke="#2a2a2a" stroke-width="1.0" fill="none"/>
<path d="M643.5 384.5L643.5 381.5" stroke="#2a2a2a" stroke-width="1.0" fill="none"/>
<text x="469.7" y="227.78" font-size="11.4" fill="#1c1c1c" stroke="#1c1c1c" stroke-width="0.3" text-anchor="end">10</text>
<text x="469.8" y="222.58" font-size="7" fill="#222" stroke="#222" stroke-width="0.2" textLength="6" lengthAdjust="spacingAndGlyphs">10</text>
<text x="468.7" y="259.4" font-size="11.4" fill="#1c1c1c" stroke="#1c1c1c" stroke-width="0.3" text-anchor="end">10</text>
<text x="469.2" y="255.2" font-size="7" fill="#222" stroke="#222" stroke-width="0.3" text-anchor="start">8</text>
<text x="468.7" y="292.6" font-size="11.4" fill="#1c1c1c" stroke="#1c1c1c" stroke-width="0.3" text-anchor="end">10</text>
<text x="469.2" y="288.4" font-size="7" fill="#222" stroke="#222" stroke-width="0.3" text-anchor="start">6</text>
<text x="468.7" y="326.6" font-size="11.4" fill="#1c1c1c" stroke="#1c1c1c" stroke-width="0.3" text-anchor="end">10</text>
<text x="469.2" y="322.4" font-size="7" fill="#222" stroke="#222" stroke-width="0.3" text-anchor="start">4</text>
<text x="468.7" y="357.35" font-size="11.4" fill="#1c1c1c" stroke="#1c1c1c" stroke-width="0.3" text-anchor="end">10</text>
<text x="469.2" y="353.15" font-size="7" fill="#222" stroke="#222" stroke-width="0.3" text-anchor="start">2</text>
<text x="472.75" y="395.4" font-size="10.5" fill="#1c1c1c" stroke="#1c1c1c" stroke-width="0.3" text-anchor="middle">0</text>
<text x="499.6" y="397.6" font-size="10.5" fill="#1c1c1c" stroke="#1c1c1c" stroke-width="0.3" text-anchor="middle">2</text>
<text x="525.25" y="397.6" font-size="10.5" fill="#1c1c1c" stroke="#1c1c1c" stroke-width="0.3" text-anchor="middle">4</text>
<text x="547.9" y="397.6" font-size="10.5" fill="#1c1c1c" stroke="#1c1c1c" stroke-width="0.3" text-anchor="middle">6</text>
<text x="572.75" y="397.6" font-size="10.5" fill="#1c1c1c" stroke="#1c1c1c" stroke-width="0.3" text-anchor="middle">8</text>
<text x="595" y="397.6" font-size="10.5" fill="#1c1c1c" stroke="#1c1c1c" stroke-width="0.3" text-anchor="middle">10</text>
<text x="621.9" y="397.6" font-size="10.5" fill="#1c1c1c" stroke="#1c1c1c" stroke-width="0.3" text-anchor="middle">12</text>
<text x="645.6" y="397.6" font-size="10.5" fill="#1c1c1c" stroke="#1c1c1c" stroke-width="0.3" text-anchor="middle">14</text>
<text x="497.7" y="234" font-size="11" fill="#222" stroke="#222" stroke-width="0.3" text-anchor="middle">(e)</text>
<text x="550.4" y="408.2" font-size="11" fill="#222" stroke="#222" stroke-width="0.2"><tspan font-style="italic">t</tspan>/d</text>
<text x="451.8" y="298.9" font-size="11.4" fill="#484848" text-anchor="middle" transform="rotate(-90 451.8 298.9)">CFU · mL<tspan font-size="6.5" dy="-4">−1</tspan></text>
<path d="M478.7 304L487.9 278" stroke="#6a6a6a" stroke-width="3.2" fill="none"/>
<path d="M477.2 312L489.4 273L525 243.6L560.8 240.4" stroke="#707070" stroke-width="1.3" fill="none"/>
<path d="M558.3 236.6H563.3M560.8 234.1V239.1" stroke="#555" stroke-width="1.0" fill="none"/>
<path d="M477.2 306L489.4 273L525 248L560.8 242" stroke="#707070" stroke-width="1.3" fill="none"/>
<rect x="472.7" y="301.5" width="9" height="9" fill="none" stroke="#444" stroke-width="1.0"/>
<rect x="520.5" y="243.5" width="9" height="9" fill="none" stroke="#444" stroke-width="1.0"/>
<rect x="556.3" y="237.5" width="9" height="9" fill="none" stroke="#444" stroke-width="1.0"/>
<path d="M477.2 312L489.4 272.5L525 245.5L560.8 243" stroke="#707070" stroke-width="1.3" fill="none"/>
<path d="M520.2 240.7L529.8 250.3M520.2 250.3L529.8 240.7M525 240.7V250.3" stroke="#3a3a3a" stroke-width="1.2" fill="none"/>
<path d="M477.2 312L489.4 273L525 250L560.8 268" stroke="#707070" stroke-width="1.3" fill="none"/>
<path d="M520.2 245.2L529.8 254.8M520.2 254.8L529.8 245.2" stroke="#3a3a3a" stroke-width="1.2" fill="none"/>
<path d="M477.2 312L489.4 273L525 253L560.8 250" stroke="#707070" stroke-width="1.3" fill="none"/>
<path d="M477.2 312L489.4 273.5L525 252L560.8 272" stroke="#707070" stroke-width="1.5" fill="none"/>
<path d="M477.2 312L489.4 274L525 256L560.8 274" stroke="#707070" stroke-width="1.5" fill="none"/>
<path d="M477.2 312L489.4 274.5L525 258L560.8 261" stroke="#707070" stroke-width="1.3" fill="none"/>
<path d="M560.8 256L565.3 265.5L556.3 265.5Z" fill="#fff" stroke="#555" stroke-width="1.0"/>
<path d="M479.2 324L489.4 346.3L525 257L560.8 243.5" stroke="#666" stroke-width="1.2" fill="none" stroke-dasharray="6 2.5 1.5 2.5"/>
<path d="M489.4 342.5L494.2 346.3L489.4 350.1L484.6 346.3Z" fill="#fff" stroke="#888" stroke-width="1.0"/>
<path d="M489.4 273.5L525 287.8" stroke="#aaa" stroke-width="1.0" fill="none"/>
<path d="M525 287.8L560.8 248" stroke="#aaa" stroke-width="1.0" fill="none" stroke-dasharray="6 2 1.5 2"/>
<path d="M520 284L530 284L525 291.6Z" fill="#111"/>
<path d="M555.8 244.2L565.8 244.2L560.8 251.8Z" fill="#111"/>
<path d="M477.2 318L489.4 275L525 263L560.8 254" stroke="#707070" stroke-width="1.3" fill="none"/>
<rect x="555.8" y="249.1" width="10" height="9.8" fill="#808080"/>
<path d="M477.2 321.9L489.4 275.5L525 260.6L560.8 273.8" stroke="#707070" stroke-width="1.3" fill="none"/>
<ellipse cx="477.2" cy="321.9" rx="5" ry="5" fill="#666"/>
<ellipse cx="525" cy="260.6" rx="5" ry="5" fill="#666"/>
<path d="M489.4 276L525 266L560.8 262" stroke="#707070" stroke-width="1.3" fill="none"/>
<path d="M477.2 312L489 313.8L525 273.8L560.8 273.8" stroke="#444" stroke-width="1.1" fill="none"/>
<rect x="484" y="309" width="10" height="9.6" fill="#2a2a2a"/>
<rect x="520" y="269" width="10" height="9.6" fill="#2a2a2a"/>
<rect x="555.8" y="269" width="10" height="9.6" fill="#2a2a2a"/>
<rect x="555.8" y="269" width="10" height="9.6" fill="#4a4a4a"/>
<rect x="484.3" y="268.5" width="10.6" height="10.2" fill="#686868"/>
<path d="M472.5 306.5L481.5 306.5L477 313.5Z" fill="#111"/>
<path d="M556 245L566 245L561 252.6Z" fill="#111"/>
<rect x="520.6" y="243.6" width="8.8" height="8.8" fill="none" stroke="#333" stroke-width="1.2"/>
</g>
<g id="legend">
<path d="M130.6 422.6L162.6 422.6" stroke="#1c1c1c" stroke-width="1.25" fill="none"/>
<path d="M149.4 422.6H149.4M149.4 418.2V427" stroke="#1c1c1c" stroke-width="1.3" fill="none"/>
<text x="165" y="426.3" font-size="11" fill="#222" stroke="#222" stroke-width="0.2" textLength="20.2" lengthAdjust="spacingAndGlyphs">BC1</text>
<path d="M203 422.6L233.4 422.6" stroke="#1c1c1c" stroke-width="1.25" fill="none"/>
<rect x="215.3" y="418.9" width="7.6" height="7.8" fill="#0a0a0a"/>
<text x="235.2" y="426.3" font-size="11" fill="#222" stroke="#222" stroke-width="0.2" textLength="21" lengthAdjust="spacingAndGlyphs">BC2</text>
<path d="M284.8 422.6L311.6 422.6" stroke="#1c1c1c" stroke-width="1.25" fill="none"/>
<rect x="295.05" y="419.45" width="6.5" height="6.5" fill="none" stroke="#1c1c1c" stroke-width="1.5"/>
<text x="312.7" y="426.3" font-size="11" fill="#222" stroke="#222" stroke-width="0.2" textLength="22.3" lengthAdjust="spacingAndGlyphs">BM1</text>
<path d="M365.1 422.6L393 422.6" stroke="#1c1c1c" stroke-width="1.25" fill="none"/>
<ellipse cx="377" cy="422.6" rx="3.4" ry="3.2" fill="none" stroke="#1c1c1c" stroke-width="2.0"/>
<text x="395.3" y="426.3" font-size="11" fill="#222" stroke="#222" stroke-width="0.2" textLength="23.8" lengthAdjust="spacingAndGlyphs">BM2</text>
<path d="M434.8 422.6L464 422.6" stroke="#1c1c1c" stroke-width="1.25" fill="none"/>
<path d="M449.1 417L454.6 422.6L449.1 428.2L443.6 422.6Z" fill="#0a0a0a"/>
<text x="465" y="426.3" font-size="11" fill="#222" stroke="#222" stroke-width="0.2" textLength="18.7" lengthAdjust="spacingAndGlyphs">BS1</text>
<path d="M506.5 422.6L536.3 422.6" stroke="#1c1c1c" stroke-width="1.25" fill="none"/>
<path d="M523.4 419.75L528.1 427.65L518.7 427.65Z" fill="#0a0a0a"/>
<text x="539.5" y="426.3" font-size="11" fill="#222" stroke="#222" stroke-width="0.2" textLength="20.1" lengthAdjust="spacingAndGlyphs">BS2</text>
<path d="M586.9 422.6L589.4 422.6" stroke="#1c1c1c" stroke-width="1.25" fill="none"/>
<path d="M590.8 422.6L593.8 422.6" stroke="#1c1c1c" stroke-width="1.25" fill="none"/>
<path d="M608.5 422.6L614 422.6" stroke="#1c1c1c" stroke-width="1.25" fill="none"/>
<path d="M615.6 422.6L617.2 422.6" stroke="#1c1c1c" stroke-width="1.25" fill="none"/>
<path d="M618.4 422.6L620 422.6" stroke="#1c1c1c" stroke-width="1.25" fill="none"/>
<path d="M601.3 416.75L606.9 422L601.3 427.25L595.7 422Z" fill="none" stroke="#1c1c1c" stroke-width="1.9"/>
<path d="M598.2 422.4L602 422.4" stroke="#1c1c1c" stroke-width="1.1" fill="none"/>
<text x="622" y="426.3" font-size="11" fill="#222" stroke="#222" stroke-width="0.2" textLength="34.2" lengthAdjust="spacingAndGlyphs">BAC01</text>
<path d="M130.6 441.5L134.4 441.5" stroke="#1c1c1c" stroke-width="1.25" fill="none"/>
<path d="M135.6 441.5L136.9 441.5" stroke="#1c1c1c" stroke-width="1.25" fill="none"/>
<path d="M137.6 441.5L145.5 441.5" stroke="#1c1c1c" stroke-width="1.25" fill="none"/>
<path d="M151.5 441.5L156.2 441.5" stroke="#1c1c1c" stroke-width="1.25" fill="none"/>
<path d="M157.5 441.5L161.2 441.5" stroke="#1c1c1c" stroke-width="1.25" fill="none"/>
<path d="M143.65 437.9L151.55 445.7M143.65 445.7L151.55 437.9" stroke="#1c1c1c" stroke-width="1.2" fill="none"/>
<text x="163.3" y="445.2" font-size="11" fill="#222" stroke="#222" stroke-width="0.2" textLength="26.9" lengthAdjust="spacingAndGlyphs">BPU1</text>
<path d="M203 441.5L233.4 441.5" stroke="#1c1c1c" stroke-width="1.25" fill="none"/>
<path d="M218.8 438.2L222.45 444.85L215.15 444.85Z" fill="#fff" stroke="#1c1c1c" stroke-width="1.5"/>
<text x="235.2" y="445.2" font-size="11" fill="#222" stroke="#222" stroke-width="0.2" textLength="27.9" lengthAdjust="spacingAndGlyphs">BPU2</text>
<path d="M284.8 441.5L311.6 441.5" stroke="#1c1c1c" stroke-width="1.25" fill="none"/>
<rect x="293.6" y="437.7" width="8" height="8" fill="#787878"/>
<text x="313.3" y="445.2" font-size="11" fill="#222" stroke="#222" stroke-width="0.2" textLength="28.7" lengthAdjust="spacingAndGlyphs">BPU3</text>
<path d="M365.1 441.5L393 441.5" stroke="#1c1c1c" stroke-width="1.25" fill="none"/>
<path d="M373.3 438L382.7 438L378 445.8Z" fill="#0a0a0a"/>
<text x="396.5" y="445.2" font-size="11" fill="#222" stroke="#222" stroke-width="0.2" textLength="27" lengthAdjust="spacingAndGlyphs">BBB1</text>
<path d="M434.8 441.5L465.6 441.5" stroke="#1c1c1c" stroke-width="1.1" fill="none"/>
<path d="M446.75 438.3L454.65 446.1M446.75 446.1L454.65 438.3" stroke="#1c1c1c" stroke-width="1.2" fill="none"/>
<text x="467" y="445.2" font-size="11" fill="#222" stroke="#222" stroke-width="0.2" textLength="28.2" lengthAdjust="spacingAndGlyphs">BCO1</text>
<path d="M506.5 441.5L536.3 441.5" stroke="#1c1c1c" stroke-width="1.1" fill="none"/>
<path d="M519 437.1L527.6 446.7M519 446.7L527.6 437.1M523.3 437.1V446.7" stroke="#1c1c1c" stroke-width="1.2" fill="none"/>
<text x="539.2" y="445.2" font-size="11" fill="#222" stroke="#222" stroke-width="0.2" textLength="22.2" lengthAdjust="spacingAndGlyphs">BLI1</text>
<path d="M586.9 441.5L619.4 441.5" stroke="#1c1c1c" stroke-width="1.25" fill="none"/>
<ellipse cx="603.1" cy="441.6" rx="3.8" ry="3.8" fill="#0a0a0a"/>
<text x="623.5" y="445.2" font-size="11" fill="#222" stroke="#222" stroke-width="0.2" textLength="27.3" lengthAdjust="spacingAndGlyphs">BPO1</text>
</g>
</svg>
</body></html>
